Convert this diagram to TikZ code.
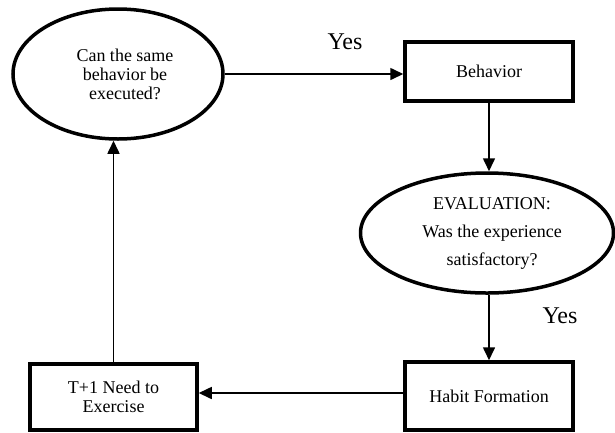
\documentclass[tikz,border=0pt]{standalone}
\usepackage{fontspec}
\setmainfont{Liberation Serif}
\usetikzlibrary{shapes.geometric,arrows.meta}
\tikzset{
  every node/.style={font=\fontsize{18}{19}\selectfont, inner sep=0pt, align=center},
  ovalbox/.style={ellipse, draw, line width=3.5pt},
  rectbox/.style={rectangle, draw, line width=3.5pt},
  link/.style={line width=1.6pt, -{Triangle[length=13pt,width=12pt]}},
  yeslabel/.style={font=\fontsize{24}{26}\selectfont}
}
\begin{document}
\begin{tikzpicture}[x=1pt,y=-1pt]
\useasboundingbox (0,0) rectangle (615,432);
\node[ovalbox, minimum width=210pt, minimum height=130pt] (q1) at (118,74) {\hspace*{14pt}Can the same\\\hspace*{14pt}behavior be\\\hspace*{14pt}executed?};
\node[rectbox, minimum width=168pt, minimum height=59pt] (beh) at (489,71.5) {Behavior};
\node[ovalbox, minimum width=253pt, minimum height=120pt, font=\fontsize{18}{28}\selectfont] (ev) at (487,233) {\hspace*{10pt}EVALUATION:\\\hspace*{10pt}Was the experience\\\hspace*{10pt}satisfactory?};
\node[rectbox, minimum width=168pt, minimum height=68pt] (hab) at (489,396) {Habit Formation};
\node[rectbox, minimum width=167pt, minimum height=66pt] (t1) at (113.5,397) {T+1 Need to\\Exercise};
\node[yeslabel] (y1) at (345,42) {Yes};
\node[yeslabel] (y2) at (560,316) {Yes};
\draw[link] (q1.east) -- (q1.east -| beh.west);
\draw[link] (beh.south) -- (beh.south |- ev.north);
\draw[link] (hab.north |- ev.south) -- (hab.north);
\draw[link] ([yshift=3pt]hab.west) -- ([yshift=3pt]hab.west -| t1.east);
\draw[link] (t1.north) -- (t1.north |- q1.south);
\end{tikzpicture}
\end{document}
